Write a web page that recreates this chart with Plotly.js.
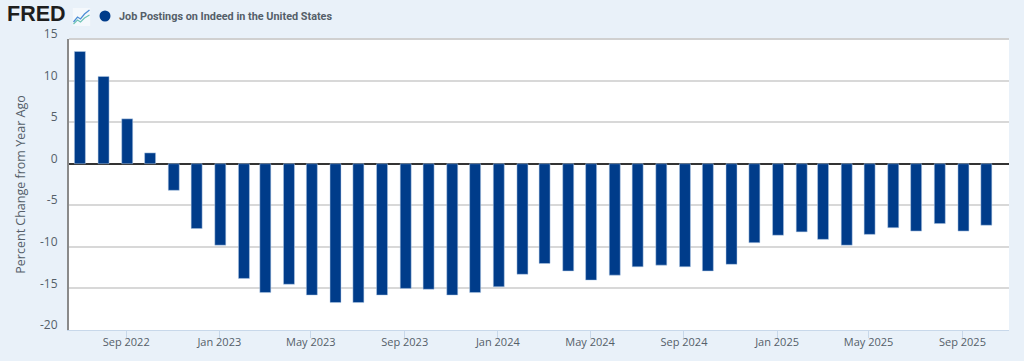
<!DOCTYPE html>
<html><head><meta charset="utf-8">
<script src="https://cdn.plot.ly/plotly-3.0.1.min.js"></script>
<style>html,body{margin:0;padding:0;background:#e9f1f9;overflow:hidden}#c{width:1024px;height:361px}</style>
</head><body><div id="c"></div>
<script>
const months = ["2022-07-01","2022-08-01","2022-09-01","2022-10-01","2022-11-01","2022-12-01",
"2023-01-01","2023-02-01","2023-03-01","2023-04-01","2023-05-01","2023-06-01","2023-07-01","2023-08-01","2023-09-01","2023-10-01","2023-11-01","2023-12-01",
"2024-01-01","2024-02-01","2024-03-01","2024-04-01","2024-05-01","2024-06-01","2024-07-01","2024-08-01","2024-09-01","2024-10-01","2024-11-01","2024-12-01",
"2025-01-01","2025-02-01","2025-03-01","2025-04-01","2025-05-01","2025-06-01","2025-07-01","2025-08-01","2025-09-01","2025-10-01"];
const values = [13.5,10.5,5.4,1.3,-3.2,-7.8,-9.8,-13.8,-15.5,-14.5,-15.8,-16.7,-16.7,-15.8,-15,-15.1,-15.8,-15.5,-14.8,-13.3,-12,-12.9,-14,-13.4,-12.4,-12.2,-12.4,-12.9,-12.1,-9.5,-8.6,-8.2,-9.1,-9.8,-8.5,-7.7,-8.1,-7.2,-8.1,-7.4];
const xTickVals = ["2022-09-01","2023-01-01","2023-05-01","2023-09-01","2024-01-01","2024-05-01","2024-09-01","2025-01-01","2025-05-01","2025-09-01"];
const xTickText = ["Sep 2022","Jan 2023","May 2023","Sep 2023","Jan 2024","May 2024","Sep 2024","Jan 2025","May 2025","Sep 2025"];
const yTicks = [-20,-15,-10,-5,0,5,10,15];
const seriesName = "Job Postings on Indeed in the United States";
const yTitle = "Percent Change from Year Ago";
const icon = 'data:image/svg+xml,' + encodeURIComponent('<svg xmlns="http://www.w3.org/2000/svg" width="18" height="18" viewBox="0 0 18 18"><rect width="18" height="18" fill="#f4f8fc"/><polyline points="1,14 5,9 8,11 12,6 17,2" fill="none" stroke="#4f8fd6" stroke-width="1.3"/><polyline points="1,16 5,12 8,14 12,10 17,7" fill="none" stroke="#6cc3b4" stroke-width="1.1"/></svg>');
Plotly.newPlot('c',[{
  type:'bar',x:months,y:values,width:14.4*86400000,offset:-5.9*86400000,
  marker:{color:'#003c8a',line:{color:'#b9cfe8',width:0.5}},showlegend:false,hoverinfo:'x+y'
}],{
  width:1024,height:361,paper_bgcolor:'#e9f1f9',plot_bgcolor:'#ffffff',
  margin:{l:69,r:15,t:39,b:31,pad:0},
  font:{family:'"Open Sans",sans-serif',size:11,color:'#555f69'},
  bargap:0,showlegend:false,
  xaxis:{type:'date',range:['2022-06-18','2025-11-01'],tickmode:'array',tickvals:xTickVals,ticktext:xTickText,
    ticks:'outside',ticklen:7,tickwidth:1,tickcolor:'#c8d8ea',showgrid:false,showline:true,linecolor:'#c8d8ea',linewidth:1,
    zeroline:false,ticklabelstandoff:-5,tickfont:{size:11,color:'#555f69'},automargin:false},
  yaxis:{range:[-20,15],tickmode:'array',tickvals:yTicks,ticktext:yTicks.map(String),
    showgrid:true,gridcolor:'#d8d8d8',gridwidth:2,zeroline:true,zerolinecolor:'#333333',zerolinewidth:2,
    showline:true,linecolor:'#8a8a8a',linewidth:2,ticks:'',ticklabelstandoff:7,ticklabelshift:-5,
    tickfont:{size:12,color:'#555f69'},
    title:{text:yTitle,standoff:12,font:{size:12.5,color:'#555f69'}},automargin:false},
  shapes:[
    {type:'line',xref:'paper',yref:'paper',x0:0,x1:1,y0:1,y1:1,line:{color:'#d0d0d0',width:2}},
    {type:'circle',xref:'paper',yref:'paper',xsizemode:'pixel',ysizemode:'pixel',xanchor:(105-69)/940,yanchor:(330-16)/291,
     x0:-5.5,x1:5.5,y0:-5.5,y1:5.5,fillcolor:'#003c8a',line:{width:0}}
  ],
  images:[{source:icon,xref:'paper',yref:'paper',xanchor:'left',yanchor:'top',sizing:'stretch',
    x:(72.5-69)/940,y:(361-31-8)/291,sizex:18/940,sizey:18/291,layer:'above'}],
  annotations:[
    {text:'<b>FRED</b>',xref:'paper',yref:'paper',xanchor:'left',yanchor:'middle',showarrow:false,
     x:(6-69)/940,y:(330-13.5)/291,font:{family:'"Liberation Sans",sans-serif',size:21.5,color:'#1e1e1e'},borderpad:0},
    {text:'<b>'+seriesName+'</b>',xref:'paper',yref:'paper',xanchor:'left',yanchor:'middle',showarrow:false,
     x:(118-69)/940,y:(330-16)/291,font:{family:'Roboto,sans-serif',size:10.85,color:'#555f69'},borderpad:0}
  ]
},{displayModeBar:false,staticPlot:true});
</script></body></html>
